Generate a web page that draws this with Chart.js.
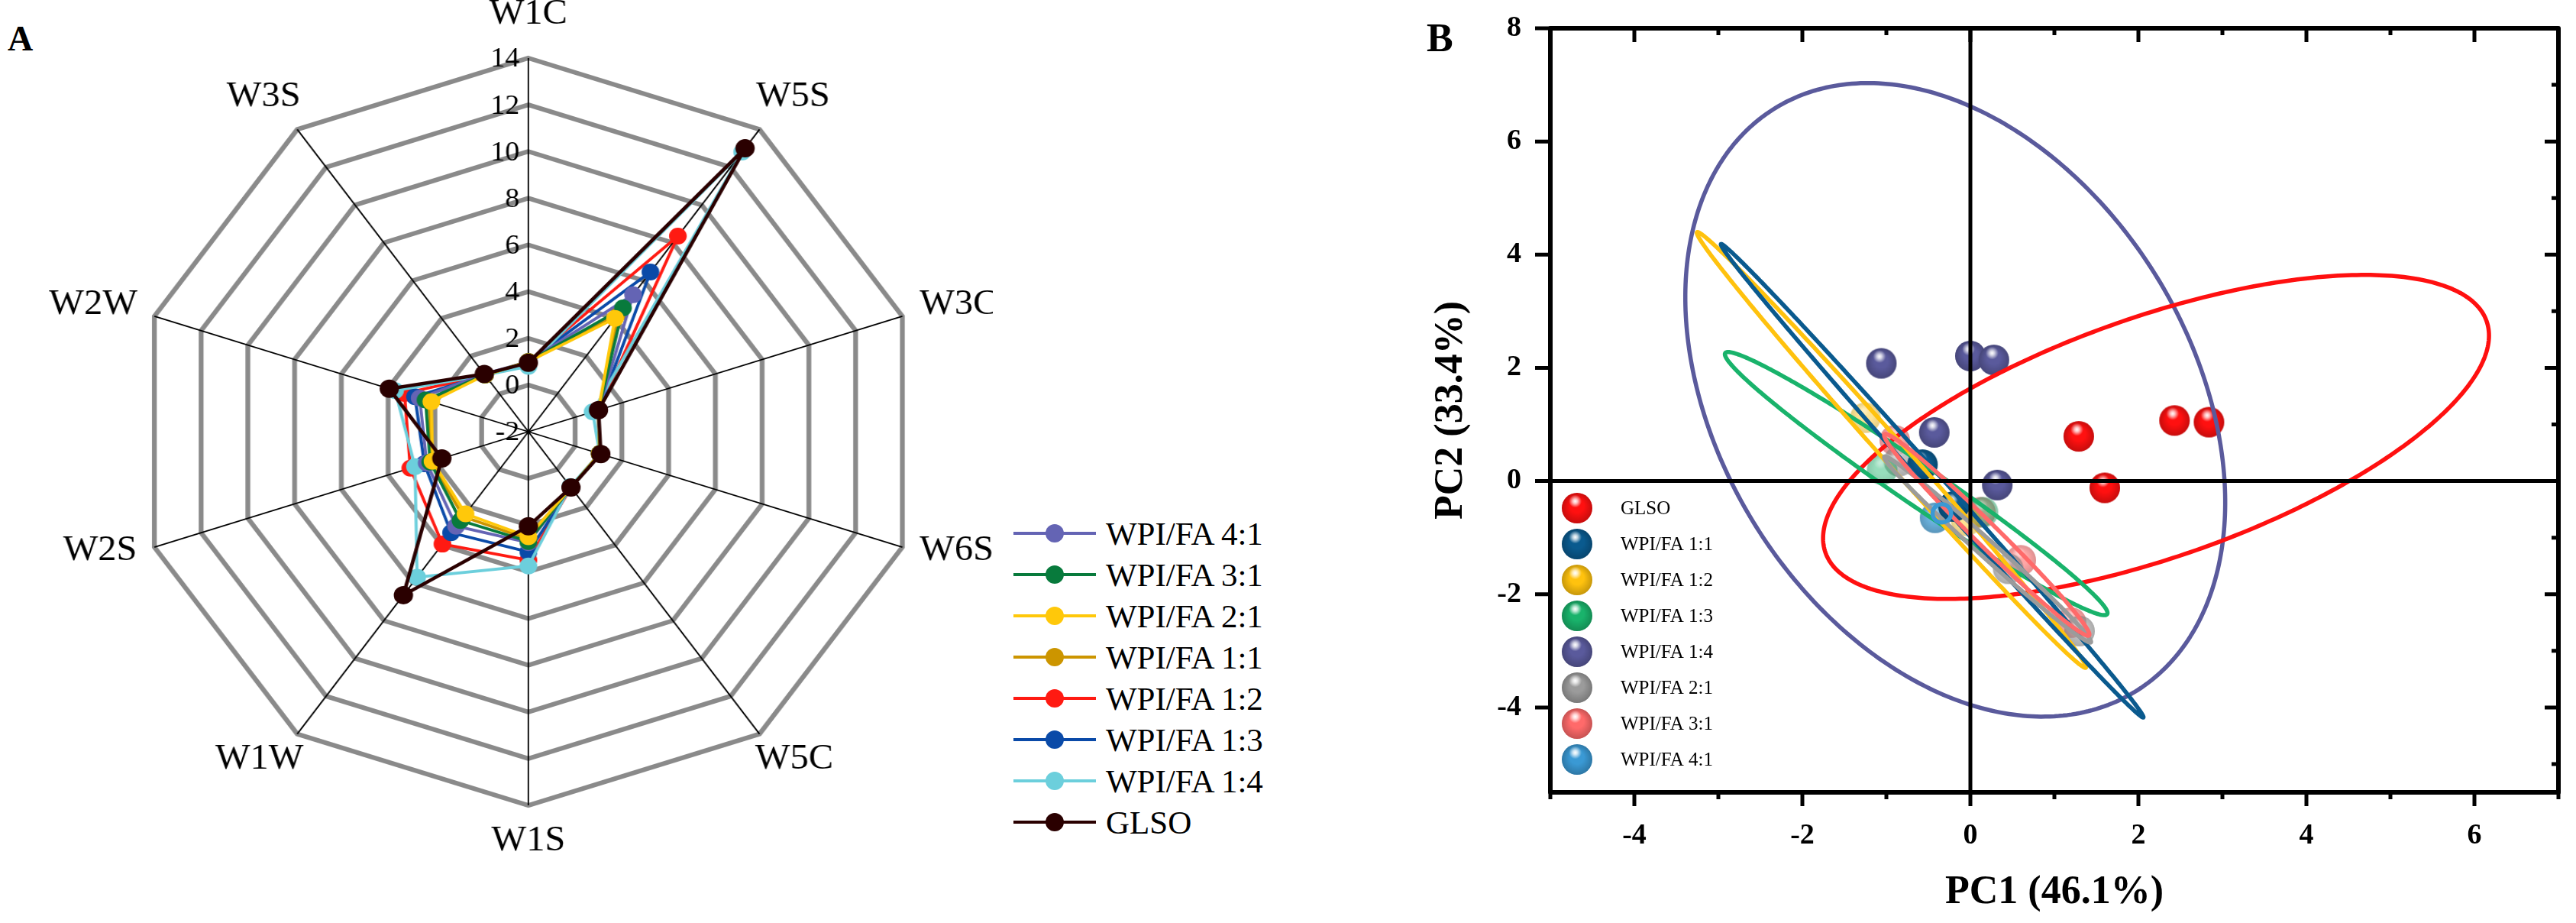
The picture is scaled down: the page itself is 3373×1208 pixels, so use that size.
<!DOCTYPE html>
<html>
<head>
    <title>E-nose radar and PCA</title>
    <script src="https://cdn.jsdelivr.net/npm/chart.js"></script>
    <style>
        body { margin: 0; background: #ffffff; width: 3373px; height: 1208px; overflow: hidden; position: relative; font-family: 'Liberation Serif', serif; }
        .tag { position: absolute; font-weight: bold; color: #000; line-height: 1; }
    </style>
</head>
<body>
    <div class="tag" style="left:10px; top:28px; font-size:46px;">A</div>
    <div class="tag" style="left:1868px; top:24px; font-size:52px;">B</div>

    <div style="position:absolute; left:0; top:0; width:1235px; height:1208px; transform:scaleX(1.053); transform-origin:0 0;">
        <canvas id="radar" width="1235" height="1208"></canvas>
    </div>
    <div id="legendA" style="position:absolute; left:1327px; top:0;"></div>

    <div style="position:absolute; left:1780px; top:0; width:1593px; height:1208px;">
        <canvas id="pca" width="1593" height="1208"></canvas>
    </div>

    <script>
        // ---- panel A: sensor responses ----
        var sensors = ['W1C', 'W5S', 'W3C', 'W6S', 'W5C', 'W1S', 'W1W', 'W2S', 'W2W', 'W3S'];
        var radarMin = -2, radarMax = 14, radarStep = 2;

        var wpi41 = [1.0, 5.25, 1.0, 1.05, 0.95, 2.75, 3.0, 2.35, 2.65, 1.05];
        var wpi31 = [1.0, 4.55, 1.0, 1.05, 0.95, 2.7, 2.7, 2.2, 2.4, 1.0];
        var wpi21 = [1.0, 4.0, 1.0, 1.05, 0.95, 2.5, 2.35, 2.1, 2.15, 1.0];
        var wpi11 = [1.0, 4.3, 1.0, 1.05, 0.95, 2.6, 2.5, 2.15, 2.25, 1.0];
        var wpi12 = [1.0, 8.35, 1.0, 1.05, 0.95, 3.5, 3.95, 3.05, 3.3, 1.0];
        var wpi13 = [1.0, 6.45, 1.0, 1.05, 0.95, 3.15, 3.35, 2.45, 2.85, 1.0];
        var wpi14 = [0.8, 12.8, 0.75, 1.05, 0.9, 3.75, 5.7, 2.85, 3.7, 1.0];
        var glso = [0.95, 13.0, 1.0, 1.1, 0.95, 2.05, 6.65, 1.7, 3.95, 1.05];

        var radarNames = ['WPI/FA 4:1', 'WPI/FA 3:1', 'WPI/FA 2:1', 'WPI/FA 1:1', 'WPI/FA 1:2', 'WPI/FA 1:3', 'WPI/FA 1:4', 'GLSO'];
        var radarSeries = [wpi41, wpi31, wpi21, wpi11, wpi12, wpi13, wpi14, glso];
        var radarColors = ['#6464b4', '#087a3c', '#ffc80a', '#cc9500', '#ff1a12', '#0a4aa8', '#6ccfdc', '#2a0000'];
        var radarOrder = [3, 2, 1, 7, 6, 5, 4, 0]; // lower = drawn on top

        // ---- panel B: PCA scores ----
        var pcNames = ['GLSO', 'WPI/FA 1:1', 'WPI/FA 1:2', 'WPI/FA 1:3', 'WPI/FA 1:4', 'WPI/FA 2:1', 'WPI/FA 3:1', 'WPI/FA 4:1'];
        var pcGLSO = [[1.29, 0.79], [1.60, -0.12], [2.43, 1.07], [2.84, 1.04]];
        var pc11 = [[-0.57, 0.29], [-0.2, -0.45]];
        var pc12 = [[-1.25, 1.12], [-0.05, -0.7]];
        var pc13 = [[-1.05, 0.2], [0.15, -0.55]];
        var pc14 = [[-1.06, 2.08], [0.0, 2.21], [0.28, 2.14], [-0.43, 0.86], [0.32, -0.07]];
        var pc21 = [[-0.85, 0.35], [0.45, -1.55], [1.3, -2.65]];
        var pc31 = [[-0.9, 0.72], [0.12, -0.55], [0.6, -1.4], [1.2, -2.5]];
        var pc41 = [[-0.42, -0.65]];
        var pcSeries = [pcGLSO, pc11, pc12, pc13, pc14, pc21, pc31, pc41];

        // confidence ellipses: [centre x, centre y, semi-major, semi-minor, angle in degrees]
        var ellGLSO = [2.21, 0.78, 4.47, 1.98, 31.05];
        var ell11 = [-0.455, 0.005, 4.88, 0.12, -59.0];
        var ell12 = [-0.94, 0.55, 4.49, 0.16, -59.0];
        var ell13 = [-0.645, -0.045, 3.24, 0.3, -45.6];
        var ell14 = [-0.18, 1.435, 5.73, 2.97, -75.5];
        var ell21 = [0.205, -1.21, 2.05, 0.12, -53.2];
        var ell31 = [0.195, -0.95, 2.155, 0.16, -55.7];
        var ell41 = [-0.34, -0.57, 0.16, 0.11, 90];
        var pcEllipses = [ellGLSO, ell11, ell12, ell13, ell14, ell21, ell31, ell41];
        var ellipseOrder = [4, 0, 3, 2, 1, 5, 6, 7];

        var pcColors = ['#ff1010', '#0a5a8e', '#ffc20e', '#19b36b', '#5a5a9c', '#9b9b9b', '#ff6a6a', '#3a99d4'];
        var pcPointAlpha = [1, 1, 0.45, 0.45, 1, 0.6, 0.6, 0.75];

        var serif = "'Liberation Serif', 'Times New Roman', serif";

        // ---------- radar ----------
        var radarText = {
            id: 'radarText',
            beforeDatasetsDraw: function (chart) {
                var r = chart.scales.r, ctx = chart.ctx;
                ctx.save();
                ctx.fillStyle = '#000';
                ctx.font = '36px ' + serif;
                ctx.textAlign = 'right';
                ctx.textBaseline = 'middle';
                r.ticks.forEach(function (t) {
                    var y = r.yCenter - r.getDistanceFromCenterForValue(t.value);
                    ctx.fillText(String(t.value), r.xCenter - 11, y + 2);
                });
                ctx.font = '46px ' + serif;
                ctx.textAlign = 'center';
                sensors.forEach(function (lab, i) {
                    var p = r.getPointPosition(i, r.drawingArea + 25);
                    var w = ctx.measureText(lab).width;
                    var c = Math.cos(p.angle), s = Math.sin(p.angle);
                    ctx.fillText(lab, p.x + c * w / 2, p.y + s * 27 * Math.abs(s) - 5);
                });
                ctx.restore();
            }
        };

        var radarSets = radarSeries.map(function (vals, i) {
            var isGlso = radarNames[i] === 'GLSO';
            return {
                label: radarNames[i],
                data: vals,
                borderColor: radarColors[i],
                backgroundColor: radarColors[i],
                pointBackgroundColor: radarColors[i],
                pointBorderColor: radarColors[i],
                pointBorderWidth: 0,
                pointRadius: isGlso ? 12 : 11,
                borderWidth: isGlso ? 4.5 : 3.8,
                fill: false,
                order: radarOrder[i]
            };
        });

        new Chart(document.getElementById('radar'), {
            type: 'radar',
            data: { labels: sensors, datasets: radarSets },
            options: {
                responsive: false,
                animation: false,
                devicePixelRatio: 1,
                elements: { line: { tension: 0 } },
                plugins: { legend: { display: false }, tooltip: { enabled: false } },
                scales: {
                    r: {
                        min: radarMin,
                        max: radarMax,
                        ticks: { stepSize: radarStep, display: false },
                        pointLabels: { display: false },
                        grid: {
                            lineWidth: 6,
                            color: function (c) { return c.tick && c.tick.value === radarMin ? 'rgba(0,0,0,0)' : '#8a8a8a'; }
                        },
                        angleLines: { color: '#000', lineWidth: 1.8 },
                        afterFit: function (s) {
                            s.xCenter = 657;
                            s.yCenter = 565;
                            s.drawingArea = 489;
                        }
                    }
                }
            },
            plugins: [radarText]
        });

        // legend for panel A
        var legendA = document.getElementById('legendA');
        radarNames.forEach(function (name, i) {
            var col = radarColors[i];
            var row = document.createElement('div');
            row.style.cssText = 'position:absolute;left:0;top:' + (671 + 54 * i) + 'px;height:54px;display:flex;align-items:center;white-space:nowrap;';
            row.innerHTML =
                '<span style="position:relative;display:inline-block;width:108px;height:24px;">' +
                '<span style="position:absolute;left:0;top:10px;width:108px;height:4px;background:' + col + ';"></span>' +
                '<span style="position:absolute;left:42px;top:0;width:24px;height:24px;border-radius:50%;background:' + col + ';"></span>' +
                '</span>' +
                '<span style="margin-left:13px;font-size:43px;font-family:' + serif.replace(/'/g, '&quot;') + ';color:#000;">' + name + '</span>';
            legendA.appendChild(row);
        });

        // ---------- PCA ----------
        function sphere(color, r, alpha) {
            var c = document.createElement('canvas');
            c.width = c.height = 2 * r + 2;
            var g = c.getContext('2d');
            var m = r + 1;
            g.globalAlpha = alpha;
            g.beginPath();
            g.arc(m, m, r, 0, Math.PI * 2);
            g.fillStyle = color;
            g.fill();
            var edge = g.createRadialGradient(m, m - 0.15 * r, 0.45 * r, m, m, r);
            edge.addColorStop(0, 'rgba(0,0,0,0)');
            edge.addColorStop(1, 'rgba(0,0,0,0.22)');
            g.fillStyle = edge;
            g.fill();
            var hl = g.createRadialGradient(m - 0.12 * r, m - 0.45 * r, 0, m - 0.12 * r, m - 0.45 * r, 0.42 * r);
            hl.addColorStop(0, 'rgba(255,255,255,1)');
            hl.addColorStop(0.35, 'rgba(255,255,255,0.75)');
            hl.addColorStop(1, 'rgba(255,255,255,0)');
            g.fillStyle = hl;
            g.fill();
            return c;
        }

        var legendSpheres = pcColors.map(function (c) { return sphere(c, 20, 1); });
        var pointSpheres = pcColors.map(function (c, i) { return sphere(c, 20, pcPointAlpha[i]); });

        function drawEllipse(ctx, xs, ys, e) {
            var th = e[4] * Math.PI / 180, ct = Math.cos(th), st = Math.sin(th);
            ctx.beginPath();
            for (var k = 0; k <= 360; k++) {
                var t = k / 360 * Math.PI * 2;
                var u = e[2] * Math.cos(t), v = e[3] * Math.sin(t);
                var px = xs.getPixelForValue(e[0] + u * ct - v * st);
                var py = ys.getPixelForValue(e[1] + u * st + v * ct);
                if (k === 0) ctx.moveTo(px, py); else ctx.lineTo(px, py);
            }
            ctx.closePath();
            ctx.stroke();
        }

        var pcaDecor = {
            id: 'pcaDecor',
            afterDatasetsDraw: function (chart) {
                var ctx = chart.ctx, xs = chart.scales.x, ys = chart.scales.y, a = chart.chartArea;
                ctx.save();
                ctx.lineJoin = 'round';
                ctx.lineWidth = 5.5;
                ellipseOrder.forEach(function (i) {
                    ctx.strokeStyle = pcColors[i];
                    drawEllipse(ctx, xs, ys, pcEllipses[i]);
                });

                ctx.strokeStyle = '#000';
                ctx.lineCap = 'butt';
                // zero lines
                ctx.lineWidth = 5;
                var x0 = xs.getPixelForValue(0), y0 = ys.getPixelForValue(0);
                ctx.beginPath();
                ctx.moveTo(x0, a.top); ctx.lineTo(x0, a.bottom);
                ctx.moveTo(a.left, y0); ctx.lineTo(a.right, y0);
                ctx.stroke();

                // tick marks
                ctx.lineWidth = 5;
                ctx.beginPath();
                for (var v = -5; v <= 7; v++) {
                    var px = xs.getPixelForValue(v), major = v % 2 === 0;
                    var len = major ? 18 : 9;
                    ctx.moveTo(px, a.bottom); ctx.lineTo(px, a.bottom + len);
                    ctx.moveTo(px, a.top); ctx.lineTo(px, a.top + len);
                }
                for (var w = -5; w <= 8; w++) {
                    var py = ys.getPixelForValue(w), majorY = w % 2 === 0;
                    if (majorY) { ctx.moveTo(a.left - 20, py); ctx.lineTo(a.left, py); }
                    ctx.moveTo(a.right, py); ctx.lineTo(a.right - (majorY ? 18 : 9), py);
                }
                ctx.stroke();

                // frame
                ctx.lineWidth = 6;
                ctx.strokeRect(a.left, a.top, a.right - a.left, a.bottom - a.top);

                // legend
                ctx.fillStyle = '#000';
                ctx.font = '25px ' + serif;
                ctx.textAlign = 'left';
                ctx.textBaseline = 'middle';
                pcNames.forEach(function (name, i) {
                    var ly = 665 + 47 * i;
                    var img = legendSpheres[i];
                    ctx.drawImage(img, 285 - img.width / 2, ly - img.height / 2);
                    ctx.fillText(name, 342, ly + 1);
                });
                ctx.restore();
            }
        };

        var pcSets = pcSeries.map(function (pts, i) {
            return {
                label: pcNames[i],
                data: pts.map(function (p) { return { x: p[0], y: p[1] }; }),
                pointStyle: pointSpheres[i],
                pointRadius: 20,
                showLine: false
            };
        });

        function evenOnly(v) { return v % 2 === 0 ? String(v) : ''; }
        var tickFont = { family: serif, size: 38, weight: 'bold' };
        var titleFont = { family: serif, size: 52, weight: 'bold' };

        new Chart(document.getElementById('pca'), {
            type: 'scatter',
            data: { datasets: pcSets },
            options: {
                responsive: false,
                animation: false,
                devicePixelRatio: 1,
                layout: { padding: { left: 89, right: 23, top: 37, bottom: 8 } },
                plugins: { legend: { display: false }, tooltip: { enabled: false } },
                scales: {
                    x: {
                        type: 'linear', min: -5, max: 7,
                        grid: { display: false, drawTicks: false },
                        border: { display: false },
                        ticks: { stepSize: 1, autoSkip: false, maxRotation: 0, padding: 34, color: '#000', font: tickFont, callback: evenOnly },
                        title: { display: true, text: 'PC1 (46.1%)', color: '#000', font: titleFont, padding: 0 },
                        afterFit: function (s) { s.height = 163; s.paddingLeft = 0; s.paddingRight = 0; }
                    },
                    y: {
                        type: 'linear', min: -5.5, max: 8,
                        grid: { display: false, drawTicks: false },
                        border: { display: false },
                        ticks: { stepSize: 1, autoSkip: false, padding: 38, color: '#000', font: tickFont, callback: evenOnly },
                        title: { display: true, text: 'PC2 (33.4%)', color: '#000', font: titleFont, padding: 0 },
                        afterFit: function (s) { s.width = 161; s.paddingTop = 0; s.paddingBottom = 0; }
                    }
                }
            },
            plugins: [pcaDecor]
        });
    </script>
</body>
</html>
